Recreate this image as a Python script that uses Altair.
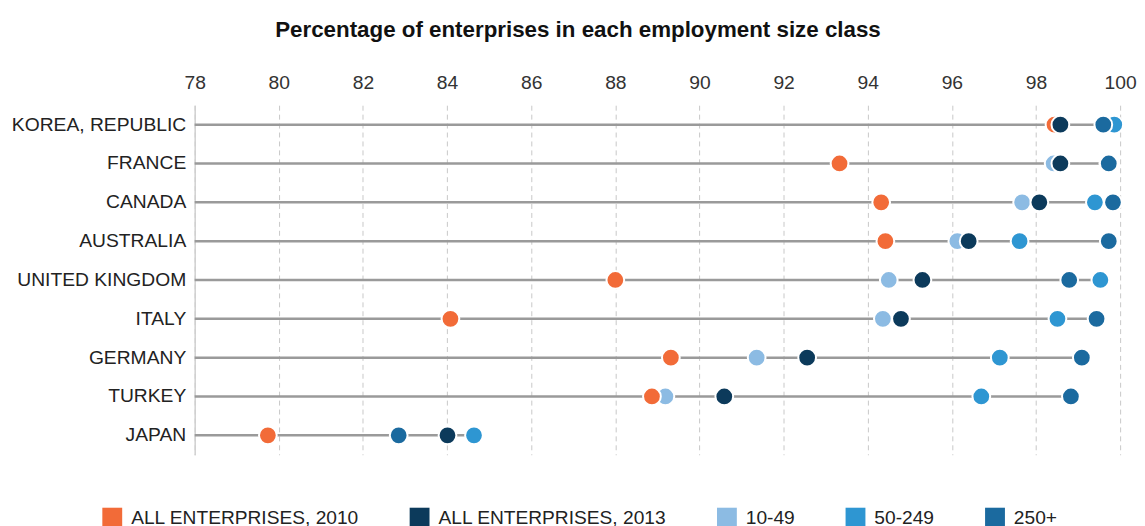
import altair as alt
import pandas as pd

countries = ["KOREA, REPUBLIC", "FRANCE", "CANADA", "AUSTRALIA", "UNITED KINGDOM",
             "ITALY", "GERMANY", "TURKEY", "JAPAN"]
all_2010 = [98.44, 93.33, 94.32, 94.42, 88.00, 84.08, 89.32, 88.87, 79.74]
all_2013 = [98.58, 98.58, 98.08, 96.40, 95.30, 94.79, 92.56, 90.59, 84.01]
size_10_49 = [98.50, 98.42, 97.67, 96.13, 94.50, 94.36, 91.36, 89.19, None]
size_50_249 = [99.86, 99.72, 99.40, 97.61, 99.53, 98.51, 97.14, 96.70, 84.64]
size_250 = [99.60, 99.73, 99.83, 99.73, 98.79, 99.44, 99.09, 98.83, 82.85]

legend_order = ["ALL ENTERPRISES, 2010", "ALL ENTERPRISES, 2013", "10-49", "50-249", "250+"]
colors = ["#F26B38", "#0C3A5B", "#8CBBE3", "#2E96D2", "#1B6A9F"]
x_ticks = list(range(78, 101, 2))
x_min = 78

series = [
    ("10-49", size_10_49, 0),
    ("ALL ENTERPRISES, 2010", all_2010, 1),
    ("50-249", size_50_249, 2),
    ("250+", size_250, 3),
    ("ALL ENTERPRISES, 2013", all_2013, 4),
]
rows = []
for name, vals, z in series:
    for c, v in zip(countries, vals):
        if v is not None:
            rows.append({"country": c, "series": name, "value": v, "z": z})
df = pd.DataFrame(rows)

lines = df.groupby("country", sort=False)["value"].max().reset_index()
lines["start"] = x_min

FONT = "Liberation Sans"

x_scale = alt.Scale(domain=[78, 100], nice=False, zero=False)
y_enc = alt.Y("country:N", sort=countries,
              axis=alt.Axis(title=None, labelFontSize=19.4, labelColor="#222222", labelFont=FONT,
                            ticks=False, domainColor="#d0d0d0", domainWidth=1.5, labelPadding=9,
                            grid=False))

rule = alt.Chart(lines).mark_rule(color="#9a9a9a", strokeWidth=2.5).encode(
    x=alt.X("start:Q", scale=x_scale,
            axis=alt.Axis(orient="top", title=None, values=x_ticks, domain=False, ticks=False,
                          labelFontSize=19.4, labelColor="#333333", labelFont=FONT, labelPadding=13,
                          labelFlush=False,
                          grid=True, gridColor="#c8c8c8", gridDash=[5, 4], gridWidth=1)),
    x2="value:Q",
    y=y_enc,
)

points = alt.Chart(df).mark_circle(size=320, opacity=1, stroke="white", strokeWidth=2).encode(
    x=alt.X("value:Q", scale=x_scale),
    y=y_enc,
    color=alt.Color("series:N", scale=alt.Scale(domain=legend_order, range=colors),
                    legend=alt.Legend(title=None, orient="none", legendX=-93, legendY=405,
                                      direction="horizontal", symbolType="square", symbolSize=400,
                                      symbolStrokeWidth=0, symbolOpacity=1, labelFontSize=19.3,
                                      labelFont=FONT, labelColor="#222222", labelOffset=9,
                                      columnPadding=50.5, labelLimit=400)),
    order=alt.Order("z:Q"),
)

chart = alt.layer(rule, points).properties(
    width=932, height=352,
    autosize=alt.AutoSizeParams(type="none"),
    padding={"left": 188, "top": 96, "right": 17, "bottom": 90},
    title=alt.TitleParams("Percentage of enterprises in each employment size class",
                          fontSize=22.5, fontWeight="bold", font=FONT, color="#111111",
                          anchor="middle", dx=-80, offset=31),
).configure_view(stroke=None)

chart.save("out.html", embed_options={"renderer": "svg", "actions": False})
